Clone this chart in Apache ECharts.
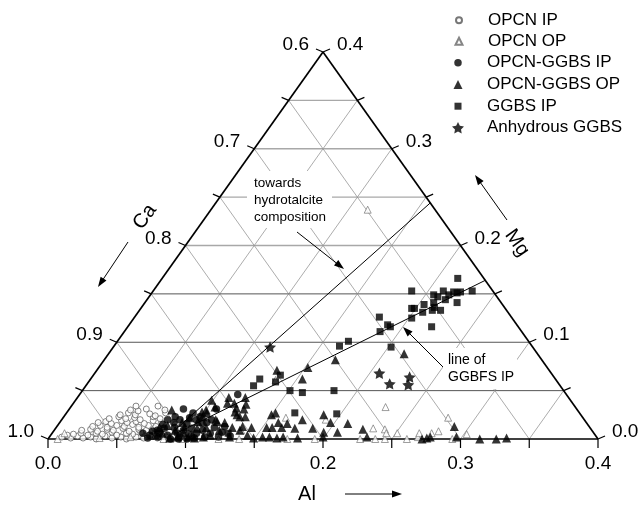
<!DOCTYPE html>
<html><head><meta charset="utf-8">
<script src="https://cdn.jsdelivr.net/npm/echarts@6/dist/echarts.min.js"></script>
<style>html,body{margin:0;padding:0;background:#fff}#c{width:638px;height:506px}</style>
</head><body><div id="c"></div>
<script>
// Ternary compositions as [Al, Mg] atomic fractions (Ca = 1 - Al - Mg)
const seriesNames = ['OPCN IP', 'OPCN OP', 'OPCN-GGBS IP', 'OPCN-GGBS OP', 'GGBS IP', 'Anhydrous GGBS'];

const opcnIP = [
  [0.016,0.001],[0.020,0.003],[0.025,0.001],[0.030,0.002],[0.035,0.000],[0.040,0.003],[0.046,0.001],[0.052,0.002],[0.057,0.000],[0.063,0.002],[0.069,0.001],[0.074,0.003],[0.079,0.001],[0.085,0.002],
  [0.016,0.005],[0.021,0.006],[0.027,0.004],[0.032,0.006],[0.037,0.005],[0.043,0.007],[0.048,0.004],[0.054,0.006],[0.059,0.005],[0.064,0.007],[0.070,0.004],[0.075,0.006],[0.080,0.005],
  [0.020,0.009],[0.026,0.010],[0.032,0.008],[0.038,0.010],[0.043,0.009],[0.049,0.011],[0.055,0.008],[0.061,0.010],[0.067,0.009],[0.072,0.011],[0.077,0.008],
  [0.026,0.013],[0.031,0.014],[0.037,0.012],[0.043,0.014],[0.049,0.013],[0.054,0.015],[0.060,0.012],[0.066,0.014],[0.072,0.013],
  [0.028,0.017],[0.033,0.018],[0.038,0.016],[0.044,0.019],[0.049,0.017],[0.055,0.018],[0.062,0.016],[0.067,0.019],[0.074,0.017],
  [0.034,0.021],[0.040,0.023],[0.046,0.021],[0.052,0.022],[0.057,0.020],[0.065,0.023],[0.071,0.021],
  [0.040,0.025],[0.045,0.027],[0.051,0.025],[0.061,0.026],[0.066,0.024],[0.072,0.027],
  [0.045,0.030],[0.051,0.029],[0.056,0.031],[0.070,0.030],
  [0.047,0.034],[0.063,0.034],
  [0.009,0.002],[0.085,0.015],[0.085,0.007],[0.090,0.004],[0.012,0.004]
];
const opcnOP = [
  [0.162,0.022],[0.229,0.033],[0.231,0.011],[0.240,0.010],[0.251,0.006],[0.135,0.061],[0.136,0.009],[0.124,0.000],
  [0.139,0.000],[0.174,0.000],[0.194,0.000],[0.192,0.020],[0.238,0.000],[0.245,0.000],[0.261,0.000],[0.268,0.002],
  [0.280,0.022],[0.280,0.008],[0.276,0.006],[0.267,0.006],[0.243,0.006],[0.302,0.005],[0.294,0.000],[0.114,0.237],
  [0.009,0.006],[0.007,0.000],[0.084,0.000],[0.098,0.000],[0.037,0.001],[0.059,0.002],[0.227,0.000]
];
const opcnGgbsIP = [
  [0.066,0.006],[0.072,0.004],[0.072,0.008],[0.075,0.009],[0.079,0.002],[0.076,0.015],[0.079,0.011],[0.085,0.004],
  [0.077,0.020],[0.089,0.000],[0.083,0.017],[0.081,0.023],[0.086,0.012],[0.091,0.006],[0.086,0.020],[0.095,0.002],
  [0.094,0.009],[0.083,0.031],[0.093,0.016],[0.101,0.000],[0.100,0.005],[0.099,0.011],[0.092,0.027],[0.106,0.001],
  [0.105,0.006],[0.099,0.023],[0.104,0.016],[0.108,0.009],[0.113,0.002],[0.107,0.017],[0.115,0.006],[0.109,0.020],
  [0.115,0.012],[0.107,0.031],[0.123,0.002],[0.123,0.007],[0.115,0.046],[0.092,0.022],[0.078,0.006],[0.072,0.001],
  [0.095,0.000],[0.098,0.020],[0.122,0.013],[0.131,0.003]
];
const opcnGgbsOP = [
  [0.075,0.030],[0.076,0.004],[0.075,0.012],[0.080,0.006],[0.088,0.001],[0.088,0.009],[0.093,0.002],[0.089,0.017],
  [0.095,0.007],[0.101,0.002],[0.092,0.022],[0.103,0.004],[0.103,0.011],[0.100,0.018],[0.098,0.028],[0.112,0.002],
  [0.101,0.023],[0.102,0.027],[0.109,0.012],[0.116,0.004],[0.099,0.040],[0.105,0.033],[0.112,0.020],[0.114,0.018],
  [0.120,0.009],[0.120,0.017],[0.112,0.037],[0.110,0.043],[0.131,0.002],[0.128,0.012],[0.117,0.037],[0.122,0.028],
  [0.121,0.032],[0.125,0.025],[0.128,0.023],[0.135,0.009],[0.127,0.031],[0.135,0.013],[0.122,0.043],[0.132,0.023],
  [0.126,0.036],[0.143,0.004],[0.142,0.012],[0.149,0.001],[0.155,0.002],[0.153,0.012],[0.160,0.002],[0.150,0.025],
  [0.157,0.012],[0.152,0.027],[0.131,0.071],[0.166,0.001],[0.159,0.017],[0.164,0.012],[0.170,0.002],[0.166,0.016],
  [0.174,0.011],[0.181,0.001],[0.154,0.062],[0.175,0.020],[0.152,0.074],[0.187,0.011],[0.199,0.002],[0.188,0.025],
  [0.197,0.007],[0.197,0.017],[0.168,0.082],[0.207,0.007],[0.210,0.016],[0.224,0.010],[0.231,0.002],[0.215,0.088],
  [0.272,0.000],[0.275,0.001],[0.277,0.002],[0.289,0.013],[0.296,0.002],[0.314,0.000],[0.326,0.000],[0.333,0.001],
  [0.100,0.030],[0.093,0.013],[0.080,0.014],[0.106,0.001]
];
const ggbsIP = [
  [0.215,0.166],[0.188,0.153],[0.206,0.149],[0.211,0.153],[0.217,0.149],[0.219,0.152],[0.222,0.151],[0.224,0.152],
  [0.232,0.153],[0.210,0.147],[0.217,0.144],[0.227,0.141],[0.204,0.139],[0.210,0.141],[0.213,0.136],[0.213,0.133],
  [0.219,0.133],[0.197,0.135],[0.199,0.135],[0.207,0.131],[0.202,0.125],[0.221,0.116],[0.188,0.118],[0.191,0.116],
  [0.178,0.126],[0.186,0.111],[0.202,0.095],[0.168,0.101],[0.164,0.096],[0.136,0.066],[0.136,0.059],[0.123,0.062],
  [0.122,0.055],[0.151,0.050],[0.161,0.048],[0.183,0.050],[0.166,0.027],[0.197,0.026],[0.128,0.006]
];
const anhydrousGGBS = [[0.114,0.095],[0.207,0.068],[0.220,0.057],[0.231,0.064],[0.234,0.056]];

const hydrotalciteLine = [[0.085,0.000],[0.156,0.244]];
const ggbfsIPLine = [[0.085,0.000],[0.236,0.164]];

const gridStep = 0.05;
const axisSpan = 0.4;
const bottomTickLabels = ['0.0','0.1','0.2','0.3','0.4'];  // Al
const leftTickLabels   = ['1.0','0.9','0.8','0.7','0.6'];  // Ca
const rightTickLabels  = ['0.0','0.1','0.2','0.3','0.4'];  // Mg

// ---------------------------------------------------------------
const FONT = '"Liberation Sans", Arial, sans-serif';
const toXY = p => [p[0] + p[1] / 2, p[1]];

// grid lines: kind 0 = triangle edge, 1 = lower horizontal, 2 = upper horizontal, 3 = diagonal
const gridItems = [];
function seg(a, b, kind) { const p = toXY(a), q = toXY(b); gridItems.push([p[0], p[1], q[0], q[1], kind]); }
for (let k = 1; k < 8; k++) {
  const v = +(k * gridStep).toFixed(3);
  seg([0, v], [axisSpan - v, v], v <= 0.15 + 1e-9 ? 1 : 2);  // constant Mg
  seg([v, 0], [v, axisSpan - v], 3);                         // constant Al
  seg([v, 0], [0, v], 3);                                    // constant Ca
}
seg([0, 0], [axisSpan, 0], 0);
seg([0, 0], [0, axisSpan], 0);
seg([axisSpan, 0], [0, axisSpan], 0);
const gridStyles = [
  { stroke: '#000', lineWidth: 1.7 },
  { stroke: '#555', lineWidth: 1 },
  { stroke: '#a8a8a8', lineWidth: 1.4 },
  { stroke: '#888', lineWidth: 0.7 }
];

// ticks: [x, y, side, index]
const tickItems = [];
for (let k = 0; k <= 8; k++) {
  const v = +(k * gridStep).toFixed(3);
  tickItems.push([...toXY([v, 0]), 0, k]);
  tickItems.push([...toXY([0, v]), 1, k]);
  tickItems.push([...toXY([axisSpan - v, v]), 2, k]);
}

const starPath = 'path://M0,-10L2.94,-4.05L9.51,-3.09L4.76,1.55L5.88,8.09L0,5L-5.88,8.09L-4.76,1.55L-9.51,-3.09L-2.94,-4.05Z';
const markerStyles = [
  { symbol: 'circle', size: 6, itemStyle: { color: '#fff', borderColor: '#555', borderWidth: 0.9 } },
  { symbol: 'triangle', size: 7, itemStyle: { color: '#fff', borderColor: '#666', borderWidth: 0.8 } },
  { symbol: 'circle', size: 7.5, itemStyle: { color: '#000' } },
  { symbol: 'triangle', size: 9, itemStyle: { color: '#000' } },
  { symbol: 'rect', size: 7, itemStyle: { color: '#000' } },
  { symbol: starPath, size: 12, itemStyle: { color: '#000' } }
];
const seriesData = [opcnIP, opcnOP, opcnGgbsIP, opcnGgbsOP, ggbsIP, anhydrousGGBS];

const scatterSeries = seriesNames.map((name, i) => ({
  name, type: 'scatter', z: 5 + i, silent: true, animation: false,
  symbol: markerStyles[i].symbol, symbolSize: markerStyles[i].size, symbolKeepAspect: true,
  itemStyle: markerStyles[i].itemStyle,
  data: seriesData[i].map(toXY)
}));

const legendRows = [20.7, 41.7, 63.3, 85, 106.7, 128.3];
const legendCenterX = 458, legendTextX = 487;
const legends = seriesNames.map((name, i) => {
  const s = markerStyles[i].size;
  return {
    data: [name], orient: 'vertical', selectedMode: false, padding: 0,
    left: legendCenterX - s / 2, top: legendRows[i] - 9,
    itemWidth: s, itemHeight: s,
    textStyle: { fontSize: 17, fontFamily: FONT, color: '#000', padding: [0, 0, 0, legendTextX - (legendCenterX + s / 2 + 5)] }
  };
});

function arrow(x1, y1, x2, y2) {
  const dx = x2 - x1, dy = y2 - y1, L = Math.hypot(dx, dy), ux = dx / L, uy = dy / L;
  const hl = 10, hw = 3.5, bx = x2 - ux * hl, by = y2 - uy * hl;
  return [
    { type: 'line', z: 30, shape: { x1, y1, x2: bx + ux * 2, y2: by + uy * 2 }, style: { stroke: '#000', lineWidth: 1 } },
    { type: 'polygon', z: 30, shape: { points: [[x2, y2], [bx - uy * hw, by + ux * hw], [bx + uy * hw, by - ux * hw]] }, style: { fill: '#000' } }
  ];
}
function txt(x, y, text, size, extra) {
  return Object.assign({ type: 'text', z: 31, x, y, style: { text, fill: '#000', fontSize: size, fontFamily: FONT, align: 'left', verticalAlign: 'middle' } }, extra || {});
}

const graphics = [
  { type: 'rect', z: 25, shape: { x: 247, y: 171, width: 85, height: 57 }, style: { fill: '#fff' } },
  { type: 'rect', z: 25, shape: { x: 443, y: 348, width: 74, height: 41 }, style: { fill: '#fff' } },
  txt(254, 183, 'towards', 13.5),
  txt(254, 200, 'hydrotalcite', 13.5),
  txt(254, 217, 'composition', 13.5),
  txt(448, 360, 'line of', 14),
  txt(448, 377, 'GGBFS IP', 14),
  { type: 'text', z: 31, x: 145, y: 217, rotation: 0.953, style: { text: 'Ca', fill: '#000', fontSize: 20, fontFamily: FONT, align: 'center', verticalAlign: 'middle' } },
  { type: 'text', z: 31, x: 517, y: 243, rotation: -0.953, style: { text: 'Mg', fill: '#000', fontSize: 20, fontFamily: FONT, align: 'center', verticalAlign: 'middle' } },
  { type: 'text', z: 31, x: 307, y: 494, style: { text: 'Al', fill: '#000', fontSize: 20, fontFamily: FONT, align: 'center', verticalAlign: 'middle' } },
  ...arrow(128, 242, 98, 287),
  ...arrow(507, 220, 475, 175),
  ...arrow(345, 494, 402, 494),
  ...arrow(297, 232, 344, 269),
  ...arrow(443, 367, 403, 327)
];

const chart = echarts.init(document.getElementById('c'), null, { renderer: 'canvas' });
chart.setOption({
  animation: false,
  backgroundColor: '#fff',
  grid: { left: 48, top: 52, width: 550, height: 387 },
  xAxis: { type: 'value', min: 0, max: axisSpan, show: false },
  yAxis: { type: 'value', min: 0, max: axisSpan, show: false },
  legend: legends,
  graphic: graphics,
  series: [
    {
      type: 'custom', z: 1, silent: true, coordinateSystem: 'cartesian2d',
      encode: { x: [0, 2], y: [1, 3] }, data: gridItems,
      renderItem(params, api) {
        const p = api.coord([api.value(0), api.value(1)]);
        const q = api.coord([api.value(2), api.value(3)]);
        return { type: 'line', shape: { x1: p[0], y1: p[1], x2: q[0], y2: q[1] }, style: gridStyles[api.value(4)] };
      }
    },
    {
      type: 'custom', z: 2, silent: true, coordinateSystem: 'cartesian2d',
      encode: { x: 0, y: 1 }, data: tickItems,
      renderItem(params, api) {
        const p = api.coord([api.value(0), api.value(1)]);
        const side = api.value(2), k = api.value(3);
        const dirs = [[0, 9], [-7, -3], [7, -3]];
        const d = dirs[side];
        const children = [{ type: 'line', shape: { x1: p[0], y1: p[1], x2: p[0] + d[0], y2: p[1] + d[1] }, style: { stroke: '#000', lineWidth: 1.2 } }];
        if (k % 2 === 0) {
          const lbl = [bottomTickLabels, leftTickLabels, rightTickLabels][side][k / 2];
          const pos = [[p[0], p[1] + 25, 'center'], [p[0] - 14, p[1] - 7, 'right'], [p[0] + 14, p[1] - 7, 'left']][side];
          children.push({ type: 'text', x: pos[0], y: pos[1], style: { text: lbl, fill: '#000', fontSize: 19, fontFamily: FONT, align: pos[2], verticalAlign: 'middle' } });
        }
        return { type: 'group', children };
      }
    },
    { type: 'line', z: 3, silent: true, symbol: 'none', data: hydrotalciteLine.map(toXY), lineStyle: { color: '#000', width: 1 } },
    { type: 'line', z: 3, silent: true, symbol: 'none', data: ggbfsIPLine.map(toXY), lineStyle: { color: '#000', width: 1 } },
    ...scatterSeries
  ]
});
</script>
</body></html>
